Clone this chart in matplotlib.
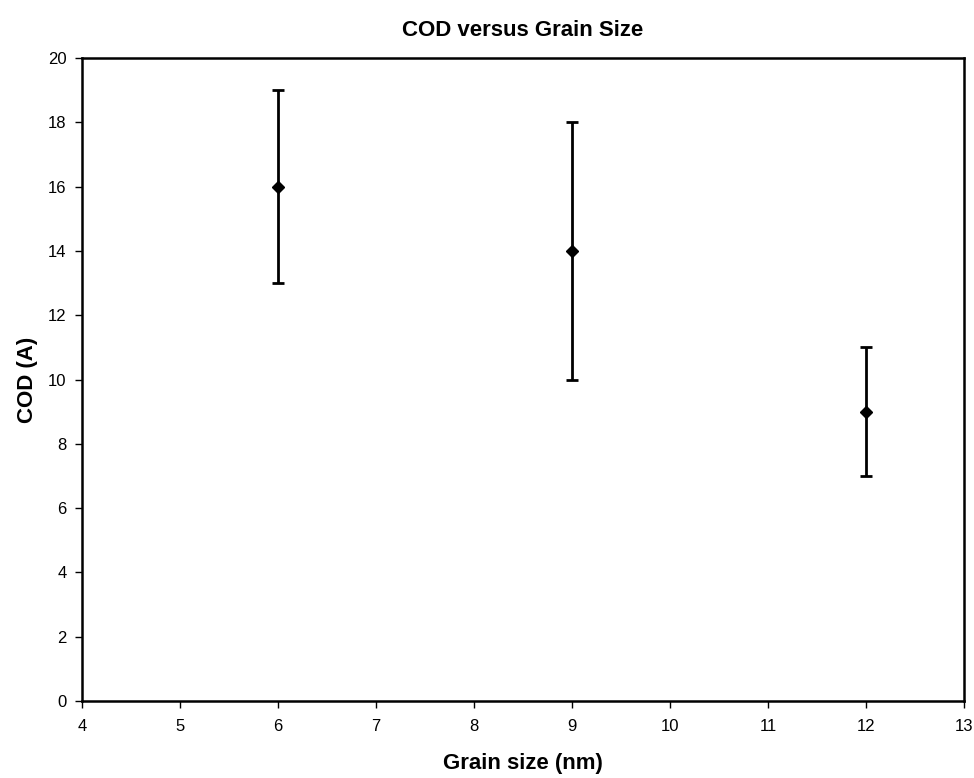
import matplotlib
matplotlib.use('Agg')
import matplotlib.pyplot as plt

plt.rcParams['font.family'] = ['Liberation Sans', 'DejaVu Sans']

grain_size = [6, 9, 12]
cod = [16, 14, 9]
err_low = [3, 4, 2]
err_high = [3, 4, 2]

fig = plt.figure(figsize=(9.74, 7.78), dpi=100)
ax = fig.add_axes([0.0842, 0.099, 0.9055, 0.8264])

ax.errorbar(grain_size, cod, yerr=[err_low, err_high], fmt='D', color='black',
            markersize=6, elinewidth=2, capsize=4, capthick=2)

ax.set_xlim(4, 13)
ax.set_ylim(0, 20)
ax.set_xticks(range(4, 14))
ax.set_yticks(range(0, 21, 2))
ax.tick_params(direction='out', length=5, width=1, labelsize=12)
ax.tick_params(axis='x', pad=8)
ax.tick_params(axis='y', pad=6)
for s in ax.spines.values():
    s.set_linewidth(1.8)

ax.set_title('COD versus Grain Size', fontsize=16, fontweight='bold', pad=16)
ax.set_xlabel('Grain size (nm)', fontsize=16, fontweight='bold', labelpad=14)
ax.set_ylabel('COD (A)', fontsize=16, fontweight='bold', labelpad=7)

fig.savefig('out.png', dpi=100)
